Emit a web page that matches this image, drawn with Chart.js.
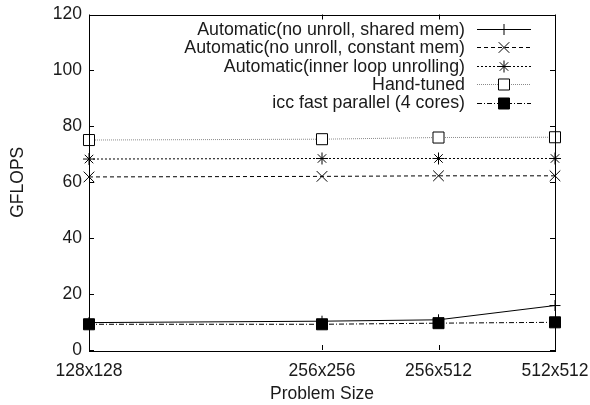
<!DOCTYPE html>
<html>
<head>
<meta charset="utf-8">
<script src="https://cdn.jsdelivr.net/npm/chart.js@4/dist/chart.umd.min.js"></script>
<style>
  html, body { margin: 0; padding: 0; background: #fff; }
  #wrap { width: 590px; height: 405px; }
</style>
</head>
<body>
<div id="wrap"><canvas id="gflops_chart"></canvas></div>
<script>
// problem sizes (x axis is log2 of element count)
const sizeRows = [128, 256, 256, 512];
const sizeCols = [128, 256, 512, 512];
const sizeLabels = ["128x128", "256x256", "256x512", "512x512"];
const yTicks = [0, 20, 40, 60, 80, 100, 120];

const sharedMem = [9.8, 10.3, 10.8, 15.9];
const constantMem = [61.9, 62.1, 62.3, 62.3];
const innerUnroll = [68.3, 68.5, 68.5, 68.5];
const handTuned = [75.1, 75.4, 76.0, 76.1];
const iccParallel = [9.2, 9.2, 9.6, 9.9];

const seriesNames = [
    "Automatic(no unroll, shared mem)",
    "Automatic(no unroll, constant mem)",
    "Automatic(inner loop unrolling)",
    "Hand-tuned",
    "icc fast parallel (4 cores)",
];

const FONT = "'Liberation Sans', Arial, Helvetica, sans-serif";
const TEXT = "#1a1a1a";
const xVals = sizeRows.map((r, i) => Math.log2(r * sizeCols[i]));

function pts(arr) {
    return arr.map((v, i) => ({ x: xVals[i], y: v }));
}

function series(label, values, opts) {
    return Object.assign({
        label: label,
        data: pts(values),
        borderColor: "#000",
        backgroundColor: "#000",
        borderWidth: 1,
        pointBorderColor: "#000",
        pointBorderWidth: 1,
        pointHoverRadius: 0,
        tension: 0,
        fill: false,
        clip: false,
    }, opts);
}

const datasets = [
    series(seriesNames[0], sharedMem, { pointStyle: "cross", pointRadius: 5.5 }),
    series(seriesNames[1], constantMem, { borderDash: [4, 3], pointStyle: "crossRot", pointRadius: 7.5 }),
    series(seriesNames[2], innerUnroll, { borderDash: [2, 2], pointStyle: "star", pointRadius: 6 }),
    series(seriesNames[3], handTuned, {
        borderColor: "#8a8a8a", borderDash: [1, 1], pointStyle: "rect", pointRadius: 7.8,
        pointBackgroundColor: "#fff",
    }),
    series(seriesNames[4], iccParallel, {
        borderDash: [5, 2, 1, 2], pointStyle: "rect", pointRadius: 7.8,
        pointBackgroundColor: "#000",
    }),
];

// gnuplot style frame with inward ticks on all four sides
const framePlugin = {
    id: "frame",
    afterDatasetsDraw(chart) {
        const { ctx, chartArea: a, scales } = chart;
        ctx.save();
        ctx.strokeStyle = "#000";
        ctx.lineWidth = 1;
        ctx.beginPath();
        yTicks.forEach((t) => {
            const y = Math.round(scales.y.getPixelForValue(t)) + 0.5;
            ctx.moveTo(a.left, y); ctx.lineTo(a.left + 5, y);
            ctx.moveTo(a.right, y); ctx.lineTo(a.right - 5, y);
        });
        xVals.forEach((v) => {
            const x = Math.round(scales.x.getPixelForValue(v)) + 0.5;
            ctx.moveTo(x, a.bottom); ctx.lineTo(x, a.bottom - 5);
            ctx.moveTo(x, a.top); ctx.lineTo(x, a.top + 5);
        });
        ctx.stroke();
        ctx.strokeRect(Math.round(a.left) + 0.5, Math.round(a.top) + 0.5,
            Math.round(a.right - a.left), Math.round(a.bottom - a.top));
        ctx.restore();
    },
};

// legend: right aligned text, then line sample with marker
const keyPlugin = {
    id: "key",
    afterDraw(chart) {
        const ctx = chart.ctx;
        const textRight = 465, lineL = 477, lineR = 531, rowTop = 29, rowStep = 18.4;
        ctx.save();
        ctx.font = "17.8px " + FONT;
        ctx.textAlign = "right";
        ctx.textBaseline = "middle";
        chart.data.datasets.forEach((ds, i) => {
            const y = rowTop + i * rowStep;
            ctx.fillStyle = TEXT;
            ctx.fillText(ds.label, textRight, y + 1);
            ctx.beginPath();
            ctx.strokeStyle = ds.borderColor;
            ctx.lineWidth = 1;
            ctx.setLineDash(ds.borderDash || []);
            ctx.moveTo(lineL, Math.round(y) + 0.5);
            ctx.lineTo(lineR, Math.round(y) + 0.5);
            ctx.stroke();
            ctx.setLineDash([]);
            ctx.strokeStyle = "#000";
            ctx.fillStyle = ds.pointBackgroundColor || "#000";
            Chart.helpers.drawPoint(ctx, {
                pointStyle: ds.pointStyle, radius: ds.pointRadius, rotation: 0, borderWidth: 1,
            }, (lineL + lineR) / 2, Math.round(y) + 0.5);
        });
        ctx.restore();
    },
};

new Chart(document.getElementById("gflops_chart"), {
    type: "line",
    data: { datasets: datasets },
    options: {
        responsive: true,
        maintainAspectRatio: false,
        animation: false,
        events: [],
        layout: { padding: { left: 0, right: 35, top: 14.5, bottom: 0 } },
        plugins: { legend: { display: false }, tooltip: { enabled: false } },
        scales: {
            x: {
                type: "linear",
                min: xVals[0],
                max: xVals[xVals.length - 1],
                grid: { display: false, drawTicks: false },
                border: { display: false },
                afterBuildTicks: (scale) => { scale.ticks = xVals.map((v) => ({ value: v })); },
                afterFit: (scale) => {
                    scale.height = 55;
                    scale.paddingLeft = 0;
                    scale.paddingRight = 0;
                },
                ticks: {
                    autoSkip: false,
                    maxRotation: 0,
                    padding: 11,
                    color: TEXT,
                    font: { family: FONT, size: 17.5 },
                    callback: (v) => sizeLabels[xVals.indexOf(v)],
                },
                title: {
                    display: true, text: "Problem Size", color: TEXT,
                    font: { family: FONT, size: 17.5 }, padding: { top: 0, bottom: 0 },
                },
            },
            y: {
                min: 0,
                max: 120,
                grid: { display: false, drawTicks: false },
                border: { display: false },
                afterBuildTicks: (scale) => { scale.ticks = yTicks.map((v) => ({ value: v })); },
                afterFit: (scale) => {
                    scale.width = 89;
                    scale.paddingTop = 0;
                    scale.paddingBottom = 0;
                },
                ticks: {
                    padding: 7,
                    color: TEXT,
                    font: { family: FONT, size: 17.5 },
                },
                title: {
                    display: true, text: "GFLOPS", color: TEXT,
                    font: { family: FONT, size: 17.5 }, padding: { top: 8, bottom: 0 },
                },
            },
        },
    },
    plugins: [framePlugin, keyPlugin],
});
</script>
</body>
</html>
